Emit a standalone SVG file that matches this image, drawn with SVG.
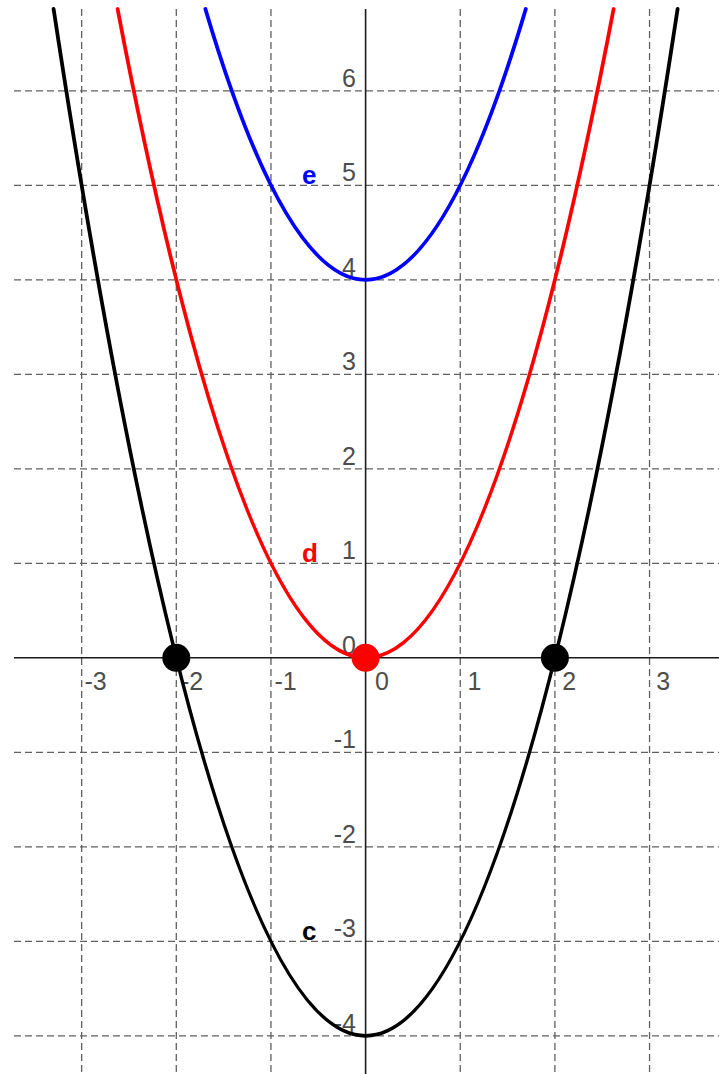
<svg xmlns="http://www.w3.org/2000/svg" width="719" height="1074" viewBox="0 0 719 1074">
  <style>
    .grid { stroke: #606060; stroke-width: 1.3; stroke-dasharray: 7 4; fill: none; }
    .axis { stroke: #1a1a1a; stroke-width: 1.6; fill: none; }
    .tick { font-family: "Liberation Sans", Arial, sans-serif; font-size: 25px; fill: #4d4d4d; }
    .ylab { text-anchor: end; }
    .curve { fill: none; stroke-width: 3.8; stroke-linecap: round; }
    .name { font-family: "Liberation Sans", Arial, sans-serif; font-size: 26px; font-weight: bold; }
  </style>
  <rect width="719" height="1074" fill="#ffffff"/>
  <g id="grid">
    <line class="grid" x1="81.65" y1="9" x2="81.65" y2="1074"/>
    <line class="grid" x1="176.3" y1="9" x2="176.3" y2="1074"/>
    <line class="grid" x1="270.95" y1="9" x2="270.95" y2="1074"/>
    <line class="grid" x1="460.25" y1="9" x2="460.25" y2="1074"/>
    <line class="grid" x1="554.9" y1="9" x2="554.9" y2="1074"/>
    <line class="grid" x1="649.55" y1="9" x2="649.55" y2="1074"/>
    <line class="grid" x1="14" y1="90.8" x2="719" y2="90.8"/>
    <line class="grid" x1="14" y1="185.3" x2="719" y2="185.3"/>
    <line class="grid" x1="14" y1="279.8" x2="719" y2="279.8"/>
    <line class="grid" x1="14" y1="374.3" x2="719" y2="374.3"/>
    <line class="grid" x1="14" y1="468.8" x2="719" y2="468.8"/>
    <line class="grid" x1="14" y1="563.3" x2="719" y2="563.3"/>
    <line class="grid" x1="14" y1="752.3" x2="719" y2="752.3"/>
    <line class="grid" x1="14" y1="846.8" x2="719" y2="846.8"/>
    <line class="grid" x1="14" y1="941.3" x2="719" y2="941.3"/>
    <line class="grid" x1="14" y1="1035.8" x2="719" y2="1035.8"/>
  </g>
  <g id="tick-labels">
    <text class="tick" x="84.5" y="690">-3</text>
    <text class="tick" x="181" y="690">-2</text>
    <text class="tick" x="274.5" y="690">-1</text>
    <text class="tick" x="375" y="690">0</text>
    <text class="tick" x="467.5" y="690">1</text>
    <text class="tick" x="562.3" y="690">2</text>
    <text class="tick" x="656.3" y="690">3</text>
    <text class="tick ylab" x="356" y="86.8">6</text>
    <text class="tick ylab" x="356" y="181.3">5</text>
    <text class="tick ylab" x="356" y="275.8">4</text>
    <text class="tick ylab" x="356" y="370.3">3</text>
    <text class="tick ylab" x="356" y="464.8">2</text>
    <text class="tick ylab" x="356" y="559.3">1</text>
    <text class="tick ylab" x="356" y="653.8">0</text>
    <text class="tick ylab" x="356" y="748.3">-1</text>
    <text class="tick ylab" x="356" y="842.8">-2</text>
    <text class="tick ylab" x="356" y="937.3">-3</text>
    <text class="tick ylab" x="356" y="1031.8">-4</text>
  </g>
  <g id="axes">
    <line class="axis" x1="14" y1="657.8" x2="719" y2="657.8"/>
    <line class="axis" x1="365.6" y1="9" x2="365.6" y2="1074"/>
  </g>
  <g id="connectors">
    <path id="curve-c" class="curve" stroke="#000000" d="M53.6,9 Q365.6,2062.6 677.6,9"/>
    <path id="curve-d" class="curve" stroke="#ff0000" d="M117.6,9 Q365.6,1306.6 613.6,9"/>
    <path id="curve-e" class="curve" stroke="#0000ff" d="M205.4,9 Q365.6,550.6 525.8,9"/>
  </g>
  <g id="label-e"><text class="name" x="302" y="184" fill="#0000ff">e</text></g>
  <g id="label-d"><text class="name" x="302" y="562" fill="#ff0000">d</text></g>
  <g id="label-c"><text class="name" x="302" y="940" fill="#000000">c</text></g>
  <g id="point-left"><circle cx="176.3" cy="657.8" r="14" fill="#000000"/></g>
  <g id="point-right"><circle cx="554.9" cy="657.8" r="14" fill="#000000"/></g>
  <g id="point-origin"><circle cx="365.6" cy="657.8" r="14" fill="#ff0000"/></g>
</svg>
